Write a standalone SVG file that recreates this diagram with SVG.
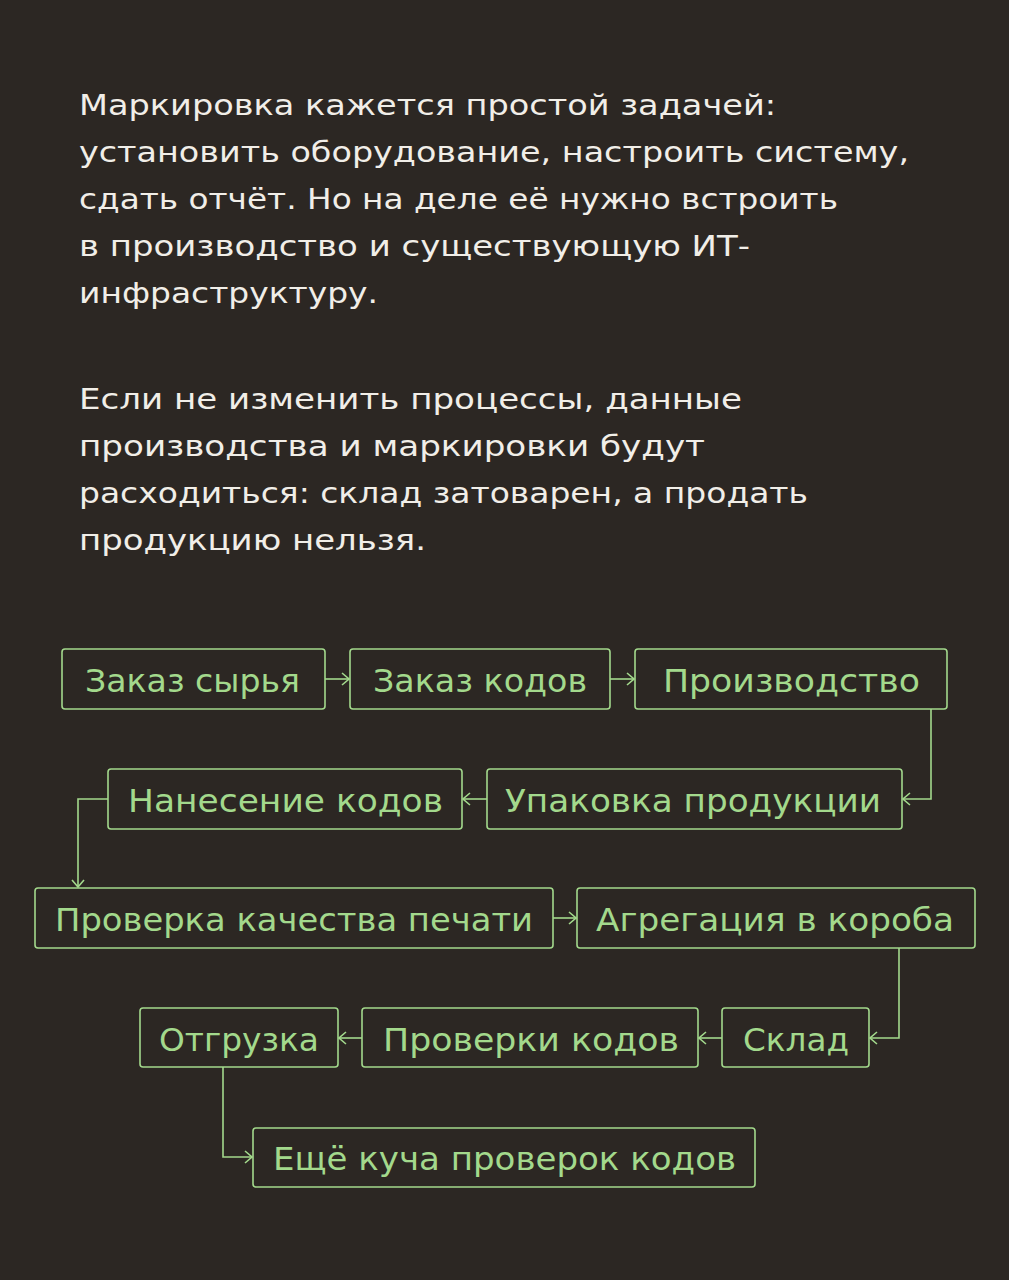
<svg xmlns="http://www.w3.org/2000/svg" width="1009" height="1280" viewBox="0 0 1009 1280">
<style>
.bg{fill:#2c2723}
.p{font-family:"DejaVu Sans","Liberation Sans",sans-serif;font-size:29px;fill:#f1eee8}
.box{fill:none;stroke:#a3d98c;stroke-width:1.6}
.lbl{font-family:"DejaVu Sans","Liberation Sans",sans-serif;font-size:32px;fill:#a3d98c;text-anchor:middle}
.edge{fill:none;stroke:#a3d98c;stroke-width:1.6}
</style>
<defs>
<marker id="arr" viewBox="-9 -7 10 14" markerWidth="10" markerHeight="14" refX="0" refY="0" orient="auto" markerUnits="userSpaceOnUse">
<path d="M-7,-6 L0,0 L-7,6" fill="none" stroke="#a3d98c" stroke-width="1.6"/>
</marker>
</defs>
<rect class="bg" x="0" y="0" width="1009" height="1280"/>
<g id="intro">
<text class="p" x="79" y="115" textLength="697" lengthAdjust="spacingAndGlyphs">Маркировка кажется простой задачей:</text>
<text class="p" x="79" y="162" textLength="830" lengthAdjust="spacingAndGlyphs">установить оборудование, настроить систему,</text>
<text class="p" x="79" y="209" textLength="759" lengthAdjust="spacingAndGlyphs">сдать отчёт. Но на деле её нужно встроить</text>
<text class="p" x="79" y="256" textLength="671" lengthAdjust="spacingAndGlyphs">в производство и существующую ИТ-</text>
<text class="p" x="79" y="303" textLength="299" lengthAdjust="spacingAndGlyphs">инфраструктуру.</text>
<text class="p" x="79" y="409" textLength="663" lengthAdjust="spacingAndGlyphs">Если не изменить процессы, данные</text>
<text class="p" x="79" y="456" textLength="626" lengthAdjust="spacingAndGlyphs">производства и маркировки будут</text>
<text class="p" x="79" y="503" textLength="729" lengthAdjust="spacingAndGlyphs">расходиться: склад затоварен, а продать</text>
<text class="p" x="79" y="550" textLength="347" lengthAdjust="spacingAndGlyphs">продукцию нельзя.</text>
</g>
<g id="connectors">
<path class="edge" d="M325,679 H349" marker-end="url(#arr)"/>
<path class="edge" d="M610,679 H634" marker-end="url(#arr)"/>
<path class="edge" d="M931,709 V799 H903" marker-end="url(#arr)"/>
<path class="edge" d="M487,799 H463" marker-end="url(#arr)"/>
<path class="edge" d="M108,799 H78 V887" marker-end="url(#arr)"/>
<path class="edge" d="M553,918 H576" marker-end="url(#arr)"/>
<path class="edge" d="M899,948 V1038 H870" marker-end="url(#arr)"/>
<path class="edge" d="M722,1038 H699" marker-end="url(#arr)"/>
<path class="edge" d="M362,1038 H339" marker-end="url(#arr)"/>
<path class="edge" d="M223,1067 V1157 H252" marker-end="url(#arr)"/>
</g>
<g id="n1"><rect class="box" x="62" y="649" width="263" height="60" rx="3"/><text class="lbl" x="192.5" y="692" textLength="215" lengthAdjust="spacingAndGlyphs">Заказ сырья</text></g>
<g id="n2"><rect class="box" x="350" y="649" width="260" height="60" rx="3"/><text class="lbl" x="480" y="692" textLength="214" lengthAdjust="spacingAndGlyphs">Заказ кодов</text></g>
<g id="n3"><rect class="box" x="635" y="649" width="312" height="60" rx="3"/><text class="lbl" x="791.5" y="692" textLength="257" lengthAdjust="spacingAndGlyphs">Производство</text></g>
<g id="n4"><rect class="box" x="487" y="769" width="415" height="60" rx="3"/><text class="lbl" x="693" y="812" textLength="376" lengthAdjust="spacingAndGlyphs">Упаковка продукции</text></g>
<g id="n5"><rect class="box" x="108" y="769" width="354" height="60" rx="3"/><text class="lbl" x="285.5" y="812" textLength="315" lengthAdjust="spacingAndGlyphs">Нанесение кодов</text></g>
<g id="n6"><rect class="box" x="35" y="888" width="518" height="60" rx="3"/><text class="lbl" x="294" y="931" textLength="478" lengthAdjust="spacingAndGlyphs">Проверка качества печати</text></g>
<g id="n7"><rect class="box" x="577" y="888" width="398" height="60" rx="3"/><text class="lbl" x="775" y="931" textLength="358" lengthAdjust="spacingAndGlyphs">Агрегация в короба</text></g>
<g id="n8"><rect class="box" x="722" y="1008" width="147" height="59" rx="3"/><text class="lbl" x="796" y="1051" textLength="106" lengthAdjust="spacingAndGlyphs">Склад</text></g>
<g id="n9"><rect class="box" x="362" y="1008" width="336" height="59" rx="3"/><text class="lbl" x="531" y="1051" textLength="296" lengthAdjust="spacingAndGlyphs">Проверки кодов</text></g>
<g id="n10"><rect class="box" x="140" y="1008" width="198" height="59" rx="3"/><text class="lbl" x="239" y="1051" textLength="160" lengthAdjust="spacingAndGlyphs">Отгрузка</text></g>
<g id="n11"><rect class="box" x="253" y="1128" width="502" height="59" rx="3"/><text class="lbl" x="504.5" y="1170" textLength="463" lengthAdjust="spacingAndGlyphs">Ещё куча проверок кодов</text></g>
</svg>
